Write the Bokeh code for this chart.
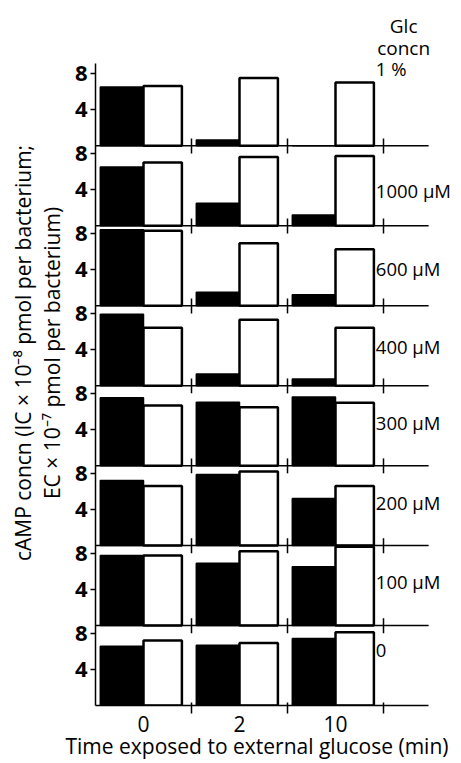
import numpy as np
from bokeh.plotting import figure
from bokeh.models import (ColumnDataSource, Range1d, FixedTicker,
                          CustomJSTickFormatter, Label, Title)
from bokeh.embed import file_html
from bokeh.resources import INLINE

# ---------------- data ----------------
times = ["0", "2", "10"]                      # min exposed to external glucose
glc_labels = ["1 %", "1000 μM", "600 μM", "400 μM",
              "300 μM", "200 μM", "100 μM", "0"]   # top -> bottom

# intracellular cAMP (black bars), per panel, times 0, 2, 10
ic_1pct = [6.5, 0.65, 0.0]
ic_1000 = [6.5, 2.5, 1.2]
ic_600 = [8.4, 1.5, 1.2]
ic_400 = [7.9, 1.3, 0.75]
ic_300 = [7.5, 7.0, 7.6]
ic_200 = [7.2, 7.85, 5.2]
ic_100 = [7.75, 6.9, 6.5]
ic_0 = [6.55, 6.65, 7.4]

# extracellular cAMP (white bars)
ec_1pct = [6.6, 7.5, 7.0]
ec_1000 = [7.0, 7.6, 7.7]
ec_600 = [8.3, 6.9, 6.25]
ec_400 = [6.4, 7.3, 6.4]
ec_300 = [6.65, 6.45, 6.95]
ec_200 = [6.6, 8.2, 6.6]
ec_100 = [7.75, 8.2, 8.7]
ec_0 = [7.2, 6.9, 8.1]

y_ticks = [4, 8]

ic_panels = [ic_1pct, ic_1000, ic_600, ic_400, ic_300, ic_200, ic_100, ic_0]
ec_panels = [ec_1pct, ec_1000, ec_600, ec_400, ec_300, ec_200, ec_100, ec_0]

# ---------------- layout ----------------
H = 8.84          # height of one panel in data units
TOP_EXTRA = 9.1   # height of top panel axis
n = len(glc_labels)
FONT = "Open Sans"
W, HT = 458, 762
BL, BB = 95, 57                 # left / bottom borders
FRAME_W = W - BL
FRAME_H = HT - BB
AX_L, AX_R = -0.5, 2.97         # extent of the axes / baselines
X_END = AX_L + FRAME_W / 96.0
Y_END = FRAME_H / 9.045

label_y = [8.5, 3.87, 4.1, 4.3, 4.75, 4.75, 4.85, 6.1]   # label centres within panel
label_x = 2.42

x_idx = np.arange(len(times))
boundaries = x_idx + 0.5

def bars(panels, dx, w):
    xs, ws, bs, ts = [], [], [], []
    for i in range(n):
        off = (n - 1 - i) * H
        for j in range(len(times)):
            xs.append(x_idx[j] + dx); ws.append(w)
            bs.append(off); ts.append(off + panels[i][j])
    return ColumnDataSource(dict(x=xs, w=ws, b=bs, t=ts))

src_ic = bars(ic_panels, -0.225, 0.45)
src_ec = bars(ec_panels, 0.2, 0.40)

p = figure(width=W, height=HT, output_backend="svg", toolbar_location=None,
           x_range=Range1d(AX_L, X_END), y_range=Range1d(0, Y_END),
           min_border_left=BL, min_border_right=0, min_border_top=0,
           min_border_bottom=BB)
p.outline_line_color = None
p.grid.visible = False
p.background_fill_color = "white"

p.vbar(x="x", width="w", bottom="b", top="t", source=src_ic,
       fill_color="black", line_color="black", line_width=1.5)
p.vbar(x="x", width="w", bottom="b", top="t", source=src_ec,
       fill_color="white", line_color="black", line_width=2.5)

# panel baselines with crossing ticks
base_y = [k * H for k in range(1, n)]
p.segment(x0=[AX_L] * len(base_y), y0=base_y, x1=[AX_R] * len(base_y), y1=base_y,
          line_color="black", line_width=1.5)
tx, ty0, ty1 = [], [], []
for by in base_y:
    for b in boundaries:
        tx.append(b); ty0.append(by - 0.85); ty1.append(by + 0.8)
p.segment(x0=tx, y0=ty0, x1=tx, y1=ty1, line_color="black", line_width=1.5)

# y axis
yt = []
for k in range(n):
    yt += [k * H + v for v in y_ticks]
yax = p.yaxis[0]
yax.bounds = (0, (n - 1) * H + TOP_EXTRA)
yax.ticker = FixedTicker(ticks=yt, minor_ticks=[])
yax.formatter = CustomJSTickFormatter(args=dict(H=H), code="""
const r = tick - H*Math.floor((tick + 0.001)/H);
return String(Math.round(r));
""")
yax.major_tick_out = 5
yax.major_tick_in = 0
yax.major_tick_line_width = 1.5
yax.axis_line_width = 1.5
yax.major_label_standoff = 3
yax.major_label_text_font = FONT
yax.major_label_text_font_style = "bold"
yax.major_label_text_font_size = "22px"
yax.major_label_text_color = "black"
yax.axis_label = "cAMP concn (IC \u00d7 10\u207b\u2078 pmol per bacterium;\nEC \u00d7 10\u207b\u2077 pmol per bacterium)"
yax.axis_label_text_font = FONT
yax.axis_label_text_font_style = "normal"
yax.axis_label_text_font_size = "21px"
yax.axis_label_text_line_height = 1.05
yax.axis_label_text_color = "black"
yax.axis_label_standoff = 6

# x axis
xax = p.xaxis[0]
xax.bounds = (AX_L, AX_R)
xax.ticker = FixedTicker(ticks=list(x_idx), minor_ticks=list(boundaries))
xax.major_label_overrides = {int(i): t for i, t in zip(x_idx, times)}
xax.major_tick_in = 0
xax.major_tick_out = 0
xax.minor_tick_in = 3
xax.minor_tick_out = 8
xax.minor_tick_line_color = "black"
xax.minor_tick_line_width = 1.5
xax.axis_line_width = 1.5
xax.major_label_standoff = 2
xax.major_label_text_font = FONT
xax.major_label_text_font_size = "21px"
xax.major_label_text_color = "black"

# x axis title, left-aligned under the axis
p.add_layout(Title(text="Time exposed to external glucose (min)", align="left",
                   offset=-30, standoff=-10, text_font=FONT,
                   text_font_size="21px", text_font_style="normal",
                   text_color="black"), "below")

# right-hand glucose concentration labels
for i, txt in enumerate(glc_labels):
    off = (n - 1 - i) * H
    p.add_layout(Label(x=label_x, y=off + label_y[i], text=txt,
                       text_font=FONT, text_font_size="18.5px",
                       text_baseline="alphabetic", text_align="left",
                       text_color="black"))
top_off = (n - 1) * H
p.add_layout(Label(x=2.71, y=top_off + 13.2, text="Glc", text_font=FONT,
                   text_font_size="19px", text_align="center",
                   text_baseline="alphabetic", text_color="black"))
p.add_layout(Label(x=2.71, y=top_off + 10.85, text="concn", text_font=FONT,
                   text_font_size="19px", text_align="center",
                   text_baseline="alphabetic", text_color="black"))

open("out.html", "w").write(file_html(p, INLINE))
